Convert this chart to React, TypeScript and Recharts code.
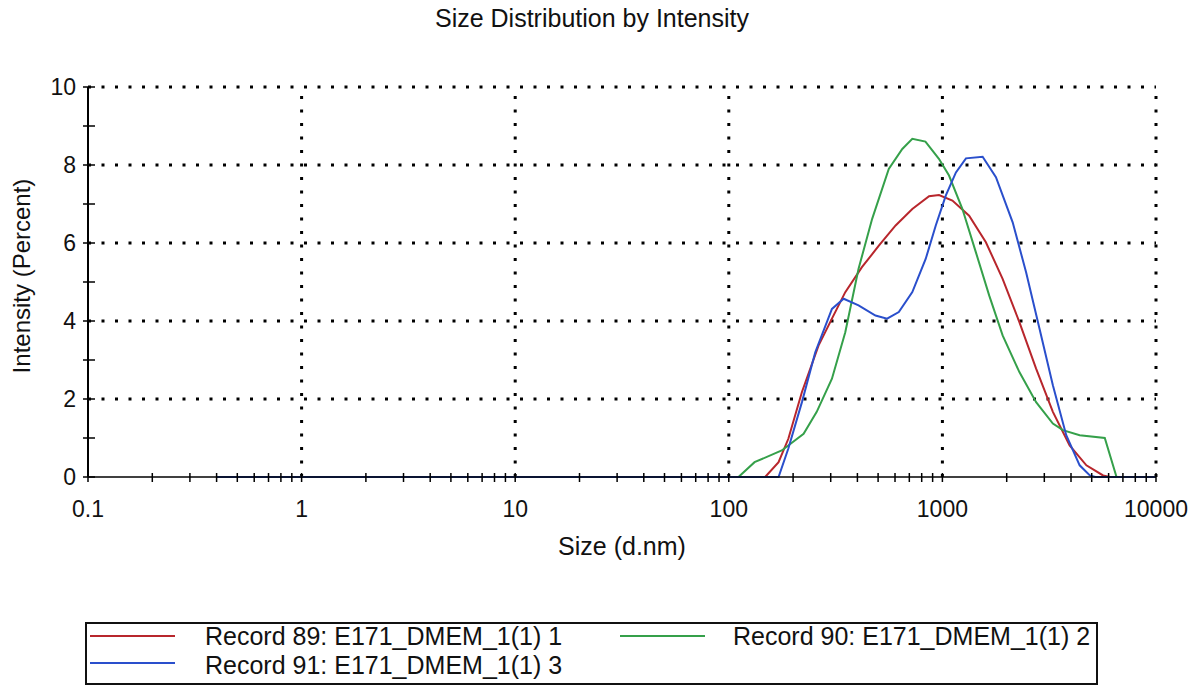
import React from 'react';
import {
  LineChart,
  Line,
  XAxis,
  YAxis,
  ReferenceLine,
  Legend
} from 'recharts';

const FONT = '"Liberation Sans", Arial, sans-serif';

// Record 89 (red)
const rec89Size = [0.4, 148, 171, 190, 220, 263, 304, 351, 420, 504, 604, 723, 866, 964, 1114, 1334, 1598, 1914, 2293, 2746, 3290, 3941, 4721, 5655, 6080, 10000];
const rec89Int = [0, 0, 0.38, 0.98, 2.18, 3.37, 4.06, 4.74, 5.38, 5.93, 6.45, 6.87, 7.2, 7.23, 7.09, 6.7, 6.02, 5.08, 3.97, 2.78, 1.67, 0.81, 0.3, 0.04, 0, 0];

// Record 90 (green)
const rec90Size = [0.4, 111, 132, 177, 224, 258, 304, 351, 405, 469, 561, 649, 723, 833, 963, 1074, 1241, 1435, 1657, 1914, 2293, 2746, 3290, 3665, 4392, 5757, 6535, 10000];
const rec90Int = [0, 0, 0.38, 0.68, 1.11, 1.67, 2.52, 3.71, 5.34, 6.62, 7.9, 8.41, 8.67, 8.6, 8.16, 7.73, 6.87, 5.76, 4.65, 3.63, 2.69, 1.92, 1.37, 1.2, 1.07, 1.0, 0, 0];

// Record 91 (blue)
const rec91Size = [0.4, 171, 190, 220, 254, 304, 345, 405, 486, 551, 625, 723, 835, 931, 1038, 1157, 1289, 1543, 1781, 2133, 2465, 2849, 3290, 3800, 4392, 4900, 5200, 10000];
const rec91Int = [0, 0, 0.73, 1.92, 3.2, 4.31, 4.57, 4.4, 4.14, 4.06, 4.23, 4.74, 5.59, 6.45, 7.22, 7.81, 8.17, 8.21, 7.69, 6.53, 5.25, 3.8, 2.35, 1.07, 0.3, 0.04, 0, 0];

const X_MAJOR = [0.1, 1, 10, 100, 1000, 10000];
const Y_TICKS = [0, 1, 2, 3, 4, 5, 6, 7, 8, 9, 10];
const Y_GRID = [2, 4, 6, 8, 10];
const X_GRID = [1, 10, 100, 1000, 10000];

const xTicks: number[] = [];
X_MAJOR.forEach((d, i) => {
  if (i === X_MAJOR.length - 1) {
    xTicks.push(d);
    return;
  }
  for (let m = 1; m < 10; m++) xTicks.push(Number((m * d).toPrecision(3)));
});

const toRows = (sizes: number[], vals: number[]) =>
  sizes.map((s, i) => ({ size: s, intensity: vals[i] }));

const SERIES = [
  { name: 'Record 89: E171_DMEM_1(1) 1', color: '#b8262c', data: toRows(rec89Size, rec89Int) },
  { name: 'Record 90: E171_DMEM_1(1) 2', color: '#35a04a', data: toRows(rec90Size, rec90Int) },
  { name: 'Record 91: E171_DMEM_1(1) 3', color: '#2a4fcc', data: toRows(rec91Size, rec91Int) }
];

const XTick = ({ x, y, payload }: any) => {
  const v = payload.value;
  const major = X_MAJOR.some(m => Math.abs(m - v) / m < 1e-6);
  return (
    <g>
      <line x1={x} x2={x} y1={y - 4} y2={y + 5} stroke="#000" strokeWidth={1.5} />
      {major && (
        <text x={x} y={y + 40} textAnchor="middle" fontSize={23} fontFamily={FONT} fill="#111">
          {String(v)}
        </text>
      )}
    </g>
  );
};

const YTick = ({ x, y, payload }: any) => {
  const v = payload.value;
  return (
    <g>
      <line x1={x - 5} x2={x + 7} y1={y} y2={y} stroke="#000" strokeWidth={1.5} />
      {v % 2 === 0 && (
        <text x={x - 12} y={y + 8} textAnchor="end" fontSize={23} fontFamily={FONT} fill="#111">
          {v}
        </text>
      )}
    </g>
  );
};

const LegendBox = () => {
  const rowText: React.CSSProperties = {
    position: 'absolute',
    fontSize: 25,
    lineHeight: '25px',
    fontFamily: FONT,
    color: '#111',
    whiteSpace: 'nowrap'
  };
  const swatch = (left: number, top: number, color: string) => (
    <div style={{ position: 'absolute', left, top, width: 85, height: 2, background: color }} />
  );
  return (
    <div
      style={{
        position: 'relative',
        width: 1013,
        height: 63,
        border: '2px solid #111',
        boxSizing: 'border-box'
      }}
    >
      {swatch(3, 11, SERIES[0].color)}
      <div style={{ ...rowText, left: 118, top: 0 }}>{SERIES[0].name}</div>
      {swatch(533, 11, SERIES[1].color)}
      <div style={{ ...rowText, left: 646, top: 0 }}>{SERIES[1].name}</div>
      {swatch(3, 38, SERIES[2].color)}
      <div style={{ ...rowText, left: 118, top: 29 }}>{SERIES[2].name}</div>
    </div>
  );
};

const labelStyle: React.CSSProperties = {
  position: 'absolute',
  fontSize: 25,
  lineHeight: '25px',
  fontFamily: FONT,
  color: '#111',
  whiteSpace: 'nowrap'
};

export default function App() {
  return (
    <div style={{ position: 'absolute', left: 0, top: 0, width: 1198, height: 688, background: '#fff' }}>
      <div style={{ ...labelStyle, left: 0, width: 1184, top: 6, textAlign: 'center' }}>
        Size Distribution by Intensity
      </div>
      <div style={{ ...labelStyle, left: 422, width: 400, top: 534, textAlign: 'center' }}>
        Size (d.nm)
      </div>
      <div
        style={{
          ...labelStyle,
          fontSize: 24,
          lineHeight: '24px',
          left: 22,
          top: 276,
          transform: 'translate(-50%, -50%) rotate(-90deg)'
        }}
      >
        Intensity (Percent)
      </div>
      <LineChart
        width={1198}
        height={688}
        margin={{ top: 87, right: 42, left: 48, bottom: 171 }}
        style={{ position: 'absolute', left: 0, top: 0 }}
      >
        <XAxis
          dataKey="size"
          type="number"
          scale="log"
          domain={[0.1, 10000]}
          ticks={xTicks}
          interval={0}
          allowDataOverflow
          height={40}
          tickSize={0}
          tickMargin={0}
          tickLine={false}
          axisLine={{ stroke: '#000', strokeWidth: 1.5 }}
          tick={<XTick />}
        />
        <YAxis
          type="number"
          domain={[0, 10]}
          ticks={Y_TICKS}
          interval={0}
          width={40}
          tickSize={0}
          tickMargin={0}
          tickLine={false}
          axisLine={{ stroke: '#000', strokeWidth: 2 }}
          tick={<YTick />}
        />
        {X_GRID.map(v => (
          <ReferenceLine key={'x' + v} x={v} stroke="#000" strokeWidth={3} strokeDasharray="3 10.5" />
        ))}
        {Y_GRID.map(v => (
          <ReferenceLine key={'y' + v} y={v} stroke="#000" strokeWidth={3} strokeDasharray="3 10.5" />
        ))}
        {SERIES.map(s => (
          <Line
            key={s.name}
            data={s.data}
            dataKey="intensity"
            name={s.name}
            type="linear"
            stroke={s.color}
            strokeWidth={2}
            dot={false}
            activeDot={false}
            isAnimationActive={false}
          />
        ))}
        <Legend
          layout="horizontal"
          verticalAlign="middle"
          align="center"
          content={<LegendBox />}
          wrapperStyle={{ left: 85, top: 622, width: 1013, height: 63 }}
        />
      </LineChart>
    </div>
  );
}
